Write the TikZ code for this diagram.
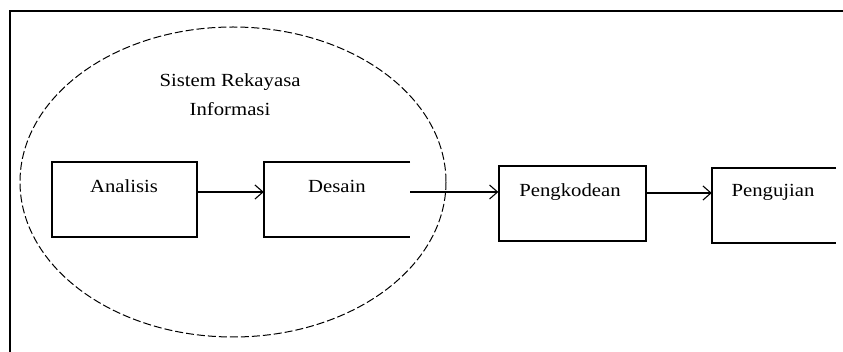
\documentclass[tikz,border=0pt]{standalone}
\usepackage{fontspec}
\setmainfont{Liberation Serif}
\newfontfamily\widefont[FakeStretch=1.12]{Liberation Serif}
\usetikzlibrary{arrows.meta}
\begin{document}
\begin{tikzpicture}[x=1pt,y=-1pt,
  lbl/.style={font=\widefont\fontsize{18.5}{21}\selectfont, inner sep=0pt},
  conn/.style={line width=1.1pt, -{Straight Barb[length=8pt,width=14pt,line width=1.1pt]}},
  boxline/.style={line width=1.3pt}]
\useasboundingbox (0,0) rectangle (843,352);
% frame (top and left visible)
\draw[line width=2pt] (843,11) -- (10,11) -- (10,352);
% dashed ellipse
\draw[line width=1pt, dash pattern=on 8pt off 3pt] (233,182) ellipse [x radius=213, y radius=155];
\node[lbl, align=center, font=\widefont\fontsize{18.5}{29}\selectfont] (title) at (230,95) {Sistem Rekayasa\\Informasi};
% boxes
\node[draw, boxline, minimum width=145pt, minimum height=75pt, inner sep=0pt] (ana) at (124.5,199.5) {};
\node[lbl] (anat) at (124,186) {Analisis};
\coordinate (desR) at (410,192);
\draw[boxline] (410,162) -- (264,162) -- (264,237) -- (410,237);
\node[inner sep=0pt, minimum width=146pt, minimum height=75pt] (des) at (337,199.5) {};
\node[lbl] (dest) at (337,186) {Desain};
\node[draw, boxline, minimum width=147pt, minimum height=75pt, inner sep=0pt] (kod) at (572.5,203.5) {};
\node[lbl] (kodt) at (570,192) {Pengkodean};
\draw[boxline] (836,168) -- (712,168) -- (712,243) -- (836,243);
\node[inner sep=0pt, minimum width=124pt, minimum height=75pt] (uji) at (774,205.5) {};
\node[lbl] (ujit) at (773,192) {Pengujian};
% connectors
\draw[conn] (ana.east |- 0,192) -- (des.west |- 0,192);
\draw[conn] (desR) -- (kod.west |- desR);
\draw[conn] (kod.east |- 0,193) -- (uji.west |- 0,193);
\end{tikzpicture}
\end{document}
